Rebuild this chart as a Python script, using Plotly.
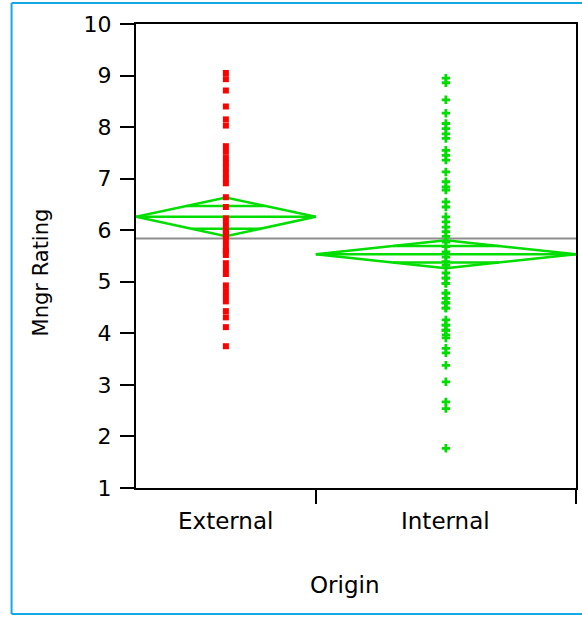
import plotly.graph_objects as go

# ---- data ----
categories = ["External", "Internal"]

external_ratings = [9.05, 8.93, 8.71, 8.40, 8.15, 8.03,
                    7.63, 7.52, 7.40, 7.30, 7.20, 7.10, 7.00, 6.91,
                    6.64, 6.45,
                    6.23, 6.12, 6.00, 5.90, 5.80, 5.70, 5.60, 5.52,
                    5.36, 5.25, 5.15,
                    4.93, 4.82, 4.72, 4.62,
                    4.43, 4.31, 4.12, 3.75,
                    5.60, 5.90, 6.00]

internal_ratings = [8.95, 8.86, 8.53, 8.27,
                    8.07, 7.97, 7.87, 7.78,
                    7.55, 7.45, 7.36, 7.13,
                    6.94, 6.84, 6.78, 6.55, 6.45,
                    6.26, 6.16, 6.06, 5.97, 5.88,
                    5.77, 5.68, 5.58, 5.48, 5.39, 5.32,
                    5.17, 5.07, 4.97,
                    4.78, 4.68, 4.59, 4.49,
                    4.26, 4.16, 4.06, 3.97, 3.91,
                    3.71, 3.62, 3.38, 3.06, 2.67, 2.54, 1.77,
                    4.06, 4.16, 4.49, 4.59, 4.78, 4.97, 5.07, 4.59]

group_means = [6.26, 5.535]
ci_lower = [5.885, 5.265]
ci_upper = [6.635, 5.805]
overlap_lower = [6.03, 5.375]
overlap_upper = [6.47, 5.695]
grand_mean = 5.84

y_ticks = [1, 2, 3, 4, 5, 6, 7, 8, 9, 10]

# ---- styling ----
GREEN = "#00DD00"
RED = "#FF0000"
FONT = "DejaVu Sans"

groups = [external_ratings, internal_ratings]
counts = [len(g) for g in groups]
total = sum(counts)
starts = [sum(counts[:i]) for i in range(len(counts))]
ends = [s + c for s, c in zip(starts, counts)]
centers = [(s + e) / 2 for s, e in zip(starts, ends)]

fig = go.Figure()

# grand mean line
fig.add_trace(go.Scatter(x=[0, total], y=[grand_mean, grand_mean], mode="lines",
                         line=dict(color="#8E8E8E", width=2), hoverinfo="skip",
                         showlegend=False))

# means diamonds
for i in range(len(categories)):
    x0, x1, xc = starts[i], ends[i], centers[i]
    m, lo, hi = group_means[i], ci_lower[i], ci_upper[i]
    fig.add_trace(go.Scatter(x=[x0, xc, x1, xc, x0], y=[m, hi, m, lo, m], mode="lines",
                             line=dict(color=GREEN, width=2.5), hoverinfo="skip",
                             showlegend=False))
    fig.add_trace(go.Scatter(x=[x0, x1], y=[m, m], mode="lines",
                             line=dict(color=GREEN, width=2.5), hoverinfo="skip",
                             showlegend=False))
    hw = (x1 - x0) / 2
    for ov, edge in ((overlap_upper[i], hi), (overlap_lower[i], lo)):
        f = 1 - (ov - m) / (edge - m)
        fig.add_trace(go.Scatter(x=[xc - f * hw, xc + f * hw], y=[ov, ov], mode="lines",
                                 line=dict(color=GREEN, width=2.5), hoverinfo="skip",
                                 showlegend=False))

# points
fig.add_trace(go.Scatter(x=[centers[0]] * counts[0], y=external_ratings, mode="markers",
                         marker=dict(symbol="square", size=6, color=RED, line=dict(width=0)),
                         name=categories[0], showlegend=False))
fig.add_trace(go.Scatter(x=[centers[1]] * counts[1], y=internal_ratings, mode="markers",
                         marker=dict(symbol="cross", size=7, color=GREEN, line=dict(width=0)),
                         name=categories[1], showlegend=False))

fig.update_layout(
    width=582, height=617,
    margin=dict(l=136, r=4, t=24, b=129),
    paper_bgcolor="white", plot_bgcolor="white",
    font=dict(family=FONT, color="black"),
    xaxis=dict(range=[0, total], tickvals=ends, ticktext=["", ""], ticks="outside",
               ticklen=14, tickwidth=2, tickcolor="black", showline=True, linewidth=2,
               linecolor="black", mirror=True, showgrid=False, zeroline=False,
               fixedrange=True),
    yaxis=dict(range=[1, 10], tickvals=y_ticks, ticks="outside", ticklen=14, tickwidth=2,
               tickcolor="black", showline=True, linewidth=2, linecolor="black",
               mirror=True, showgrid=False, zeroline=False, ticklabelstandoff=4,
               tickfont=dict(family=FONT, size=22, color="black"), fixedrange=True),
)

PLOT_W = 582 - 136 - 4
PLOT_H = 617 - 24 - 129


def px_x(px):
    return (px - 136) / PLOT_W


def px_y(py):
    return (488 - py) / PLOT_H


# category labels
for cat, xc in zip(categories, centers):
    fig.add_annotation(x=xc, xref="x", y=px_y(521), yref="paper", text=cat,
                       showarrow=False, font=dict(family=FONT, size=23, color="black"),
                       xanchor="center", yanchor="middle")

# axis titles
fig.add_annotation(x=px_x(346), xref="paper", y=px_y(585), yref="paper", text="Origin",
                   showarrow=False, font=dict(family=FONT, size=23, color="black"),
                   xanchor="center", yanchor="middle")
fig.add_annotation(x=px_x(41), xref="paper", y=px_y(272), yref="paper", text="Mngr Rating",
                   showarrow=False, textangle=-90,
                   font=dict(family=FONT, size=21, color="black"),
                   xanchor="center", yanchor="middle")

# outer blue frame (left, top and bottom edges; right edge lies beyond the picture)
FRAME = dict(color="#12A9E6", width=2)
fig.add_shape(type="line", xref="paper", yref="paper",
              x0=px_x(11), x1=px_x(11), y0=px_y(614), y1=px_y(3), line=FRAME, layer="below")
fig.add_shape(type="line", xref="paper", yref="paper",
              x0=px_x(11), x1=px_x(600), y0=px_y(3), y1=px_y(3), line=FRAME, layer="below")
fig.add_shape(type="line", xref="paper", yref="paper",
              x0=px_x(11), x1=px_x(600), y0=px_y(614), y1=px_y(614), line=FRAME, layer="below")

fig.write_html("out.html", config={"displayModeBar": False},
               post_script="document.body.style.margin='0px';")
